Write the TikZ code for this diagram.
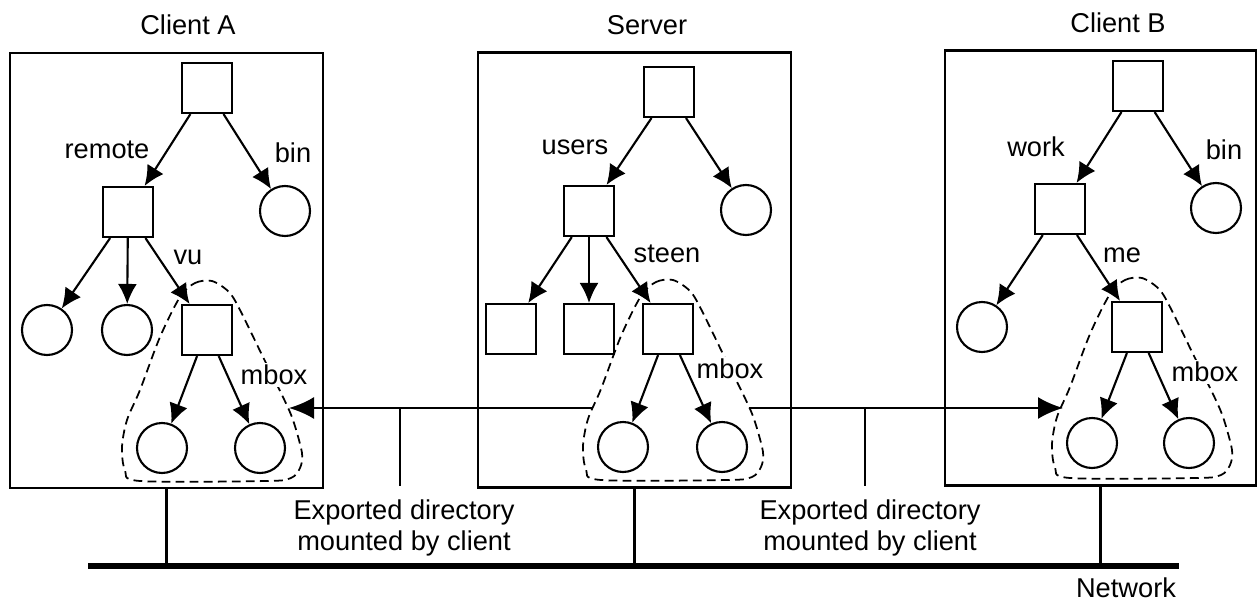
\documentclass[tikz,border=0pt]{standalone}
\usepackage{fontspec}
\setmainfont{Liberation Sans}
\usetikzlibrary{arrows.meta}

\begin{document}
\begin{tikzpicture}
  [x=0.02cm,y=-0.02cm,line width=1.2pt,
   every node/.style={font=\fontsize{15.5}{18}\selectfont},
   folder/.style={draw,minimum size=1cm,inner sep=0pt},
   file/.style={draw,circle,minimum size=1cm,inner sep=0pt},
   host/.style={draw,minimum width=6.26cm,minimum height=8.7cm},
   link/.style={-{Latex[length=4mm,width=3.8mm]}},
   mount/.style={-{Latex[length=5mm,width=4.4mm]}},
   share/.style={dash pattern=on 5pt off 3pt,line width=1pt},
   net/.style={line width=3pt}]
\useasboundingbox (0,0) rectangle (1260,601);

% machines
\node (hostA)[host] at (166.5,270.5) {};
\node (hostS)[host] at (634.5,270) {};
\node (hostB)[host,minimum width=6.22cm] at (1100.5,268) {};
\node (titleA) at (188,25) {Client A};
\node (titleS) at (647,25) {Server};
\node (titleB) at (1118,23) {Client B};

% client A
\node (a0)[folder] at (207,88) {};
\node (a1)[folder] at (128,212) {};
\node (a2)[file] at (285,211) {};
\node (a3)[file] at (47,330) {};
\node (a4)[file] at (127,330) {};
\node (a5)[folder] at (207,330) {};
\node (a6)[file] at (162,448) {};
\node (a7)[file] at (260,448) {};

% server
\node (s0)[folder] at (669,92) {};
\node (s1)[folder] at (589,211) {};
\node (s2)[file] at (746,210) {};
\node (s3)[folder] at (511,329) {};
\node (s4)[folder] at (589,329) {};
\node (s5)[folder] at (668,329) {};
\node (s6)[file] at (623,447) {};
\node (s7)[file] at (722,447) {};

% client B
\node (b0)[folder] at (1138,86) {};
\node (b1)[folder] at (1060,209) {};
\node (b2)[file] at (1216,208) {};
\node (b3)[file] at (982,327) {};
\node (b5)[folder] at (1137,327) {};
\node (b6)[file] at (1092,443) {};
\node (b7)[file] at (1189,443) {};

 \foreach \from/\to in {a0/a1,a0/a2,a1/a3,a1/a4,a1/a5,a5/a6,a5/a7,
   s0/s1,s0/s2,s1/s3,s1/s4,s1/s5,s5/s6,s5/s7,
   b0/b1,b0/b2,b1/b3,b1/b5,b5/b6,b5/b7}
    \draw[link] (\from) -- (\to);

 \foreach \sq in {a5,s5,b5}
    \draw[share,shift={(\sq)}] plot[smooth cycle] coordinates
      {(-27,-33) (-12,-47) (5,-49) (22,-38) (33,-20) (56,27) (75,65)
       (86,90) (95,123) (93,138) (84,148) (60,151) (-67,151) (-82,140)
       (-85,117) (-80,90) (-67,60) (-47,7)};

% labels
\node (remote) at (107,150) {remote};
\node (binA) at (293,153) {bin};
\node (vu) at (188,257) {vu};
\node (mboxA)[fill=white,inner sep=1pt] at (274,375) {mbox};
\node (users) at (575,147) {users};
\node (steen) at (667,254) {steen};
\node (mboxS)[fill=white,inner sep=1pt] at (730,369) {mbox};
\node (work) at (1036,147) {work};
\node (binB) at (1224,150) {bin};
\node (me) at (1122,255) {me};
\node (mboxB)[fill=white,inner sep=1pt] at (1205,372) {mbox};

% mounts
\coordinate (xA) at (289,408);
\coordinate (xS1) at (592,408);
\coordinate (xS2) at (749,408);
\coordinate (xB) at (1063,408);
\draw[mount] (xS1) -- (xA);
\draw[mount] (xS2) -- (xB);
\coordinate (kA) at (400,408);
\coordinate (kAe) at (400,486);
\coordinate (kB) at (865,408);
\coordinate (kBe) at (865,486);
\draw[line width=1pt] (kA) -- (kAe);
\draw[line width=1pt] (kB) -- (kBe);
\node (expA)[align=center] at (404,528) {Exported directory\\mounted by client};
\node (expB)[align=center] at (870,528) {Exported directory\\mounted by client};

% network
\coordinate (netL) at (88,566);
\coordinate (netR) at (1179,566);
\draw[net] (netL) -- (netR);
 \foreach \h in {hostA,hostS,hostB}
    \draw[line width=2.2pt] (\h.south) -- (\h.south |- netL);
\node (network) at (1126,588) {Network};

\end{tikzpicture}
\end{document}
